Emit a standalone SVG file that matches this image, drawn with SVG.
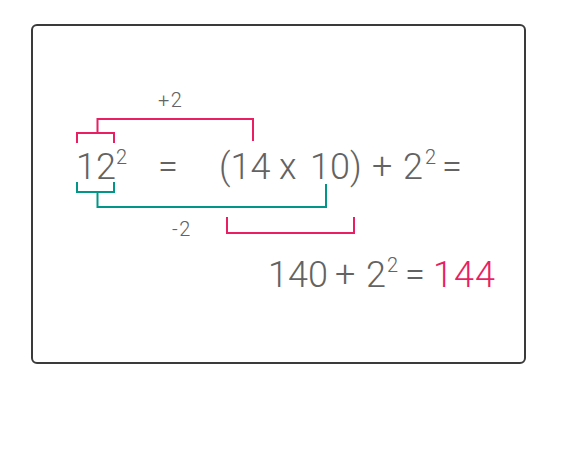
<svg xmlns="http://www.w3.org/2000/svg" width="585" height="469" viewBox="0 0 585 469">
<style>
.t{font-family:"Roboto Light",Roboto,"Liberation Sans",sans-serif;font-weight:300;fill:#636363}
.big{font-size:36px}
.sup{font-size:20px}
.lbl{font-size:20px;letter-spacing:1.5px}
.pk{fill:none;stroke:#E91E63;stroke-width:2}
.tl{fill:none;stroke:#009688;stroke-width:2}
</style>
<rect x="32" y="25" width="493" height="338" rx="5" fill="#fff" stroke="#3a3a3a" stroke-width="2"/>
<g id="connectors">
<path class="pk" d="M77,143 V133 H114 V143 M97.5,133 V119 H253 V141"/>
<path class="tl" d="M77,182 V192 H114 V182 M97.5,192 V207 H326 V184"/>
<path class="pk" d="M227,217 V233 H354 V217"/>
</g>
<g id="line1">
<text class="t big" x="76" y="179">12</text>
<text class="t sup" x="116" y="164">2</text>
<text class="t big" x="158" y="179">=</text>
<text class="t big" x="219" y="179">(14</text>
<text class="t big" x="279" y="179">x</text>
<text class="t big" x="310" y="179">10)</text>
<text class="t big" x="372" y="179">+</text>
<text class="t big" x="403" y="179">2</text>
<text class="t sup" x="425" y="164">2</text>
<text class="t big" x="442" y="179">=</text>
</g>
<g id="labels">
<text class="t lbl" x="158" y="107">+2</text>
<text class="t lbl" x="172" y="236">-2</text>
</g>
<g id="line2">
<text class="t big" x="268" y="287">140</text>
<text class="t big" x="335" y="287">+</text>
<text class="t big" x="366" y="287">2</text>
<text class="t sup" x="387" y="272">2</text>
<text class="t big" x="405" y="287">=</text>
<text class="t big" x="433" y="287" style="fill:#E91E63" letter-spacing="1">144</text>
</g>
</svg>
